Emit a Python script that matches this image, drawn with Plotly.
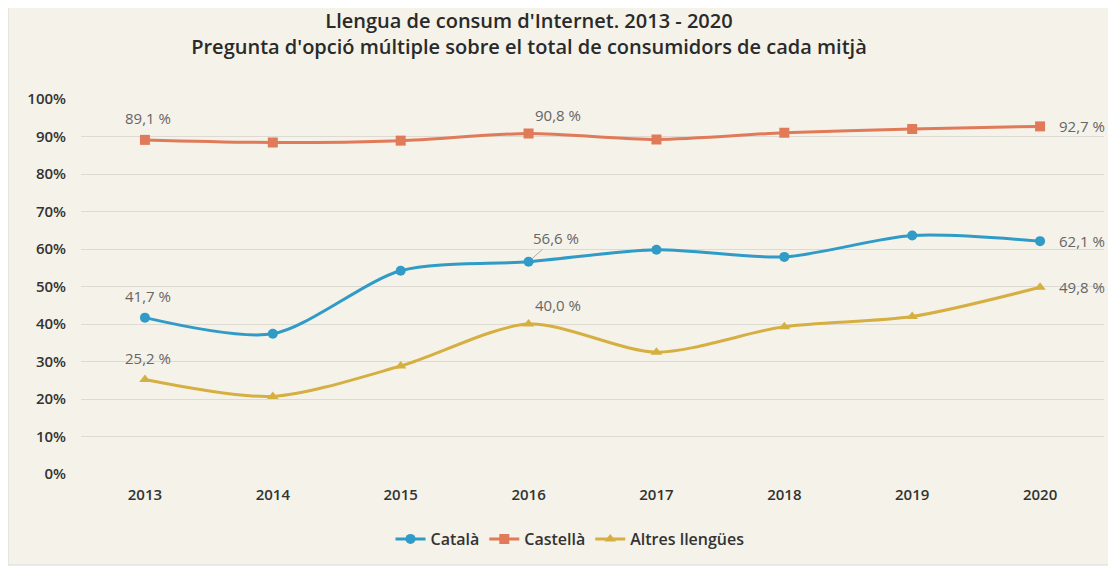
import plotly.graph_objects as go

years = ["2013", "2014", "2015", "2016", "2017", "2018", "2019", "2020"]
catala = [41.7, 37.4, 54.2, 56.6, 59.8, 57.9, 63.6, 62.1]
castella = [89.1, 88.4, 88.9, 90.8, 89.2, 91.0, 92.0, 92.7]
altres = [25.2, 20.7, 28.8, 40.0, 32.5, 39.3, 42.0, 49.8]
label_idx = [0, 3, 7]
y_ticks = [0, 10, 20, 30, 40, 50, 60, 70, 80, 90, 100]

series = [
    ("Català", catala, "#2f9bc6", "circle"),
    ("Castellà", castella, "#e07a58", "square"),
    ("Altres llengües", altres, "#d6af42", "triangle-up"),
]

FONT = "Open Sans"
W, H = 1116, 567
OFF = 8  # page body margin offset
ML, MR, MT, MB = 81 - OFF, 12 + OFF, 99 - OFF, 93 + OFF
PW, PH = W - ML - MR, H - MT - MB

fig = go.Figure()
for name, vals, color, sym in series:
    fig.add_trace(go.Scatter(
        x=years, y=vals, name=name, mode="lines+markers",
        line=dict(color=color, width=3, shape="spline", smoothing=0.8),
        marker=dict(symbol=sym, size=10, color=color),
    ))

# data labels (annotations in data coordinates; x given as category index)
label_font = dict(family=FONT, size=15, color="#666666")
for name, vals, color, sym in series:
    for i in label_idx:
        txt = f"{vals[i]:.1f}".replace(".", ",") + " %"
        if i == len(vals) - 1:
            fig.add_annotation(x=i, y=vals[i], text=txt, xanchor="left", yanchor="middle",
                               xshift=17, showarrow=False, font=label_font)
        elif i == 0:
            fig.add_annotation(x=i, y=vals[i], text=txt, xanchor="center", yanchor="middle",
                               xshift=3, yshift=22, showarrow=False, font=label_font)
        elif name == "Català":
            fig.add_annotation(x=i, y=vals[i], text=txt, showarrow=True,
                               ax=27, ay=-24, arrowhead=0, arrowwidth=0.8,
                               arrowcolor="#999999", standoff=4, font=label_font)
        else:
            fig.add_annotation(x=i, y=vals[i], text=txt, xanchor="center", yanchor="middle",
                               xshift=29, yshift=19, showarrow=False, font=label_font)

# panel background with light border
fig.add_shape(type="rect", xref="paper", yref="paper", layer="below",
              x0=(8 - OFF - ML) / PW, x1=(1110 - OFF - ML) / PW,
              y0=(H - MB - (565 - OFF)) / PH, y1=(H - MB - (4 - OFF)) / PH,
              fillcolor="#f4f2e9", line=dict(color="#d8d8d8", width=1))

fig.update_layout(
    width=W, height=H,
    paper_bgcolor="#ffffff", plot_bgcolor="rgba(0,0,0,0)",
    margin=dict(l=ML, r=MR, t=MT, b=MB),
    title=dict(
        text="Llengua de consum d'Internet. 2013 - 2020<br>Pregunta d'opció múltiple sobre el total de consumidors de cada mitjà",
        x=(529 - OFF) / W, xanchor="center", xref="container",
        y=1 - 20 / H, yanchor="top", yref="container",
        font=dict(family=FONT, size=20, color="#2a2a2a", weight=600),
    ),
    font=dict(family=FONT, color="#333333"),
    legend=dict(orientation="h", x=(570 - OFF) / W, xanchor="center", xref="container",
                y=1 - (539 - OFF) / H, yanchor="middle", yref="container",
                font=dict(size=16, color="#333333", weight=600), bgcolor="rgba(0,0,0,0)"),
    showlegend=True,
)
fig.update_xaxes(type="category", range=[-0.5, 7.5], showgrid=False, showline=False, zeroline=False,
                 tickfont=dict(size=15, color="#333333", weight=600), ticks="",
                 ticklabelstandoff=10)
fig.update_yaxes(range=[0, 100], tickvals=y_ticks, ticktext=[f"{t}%" for t in y_ticks],
                 showgrid=True, gridcolor="#dcdad2", gridwidth=1, zeroline=False,
                 tickfont=dict(size=15, color="#333333", weight=600), ticks="",
                 ticklabelstandoff=14)

fig.write_html("out.html")
